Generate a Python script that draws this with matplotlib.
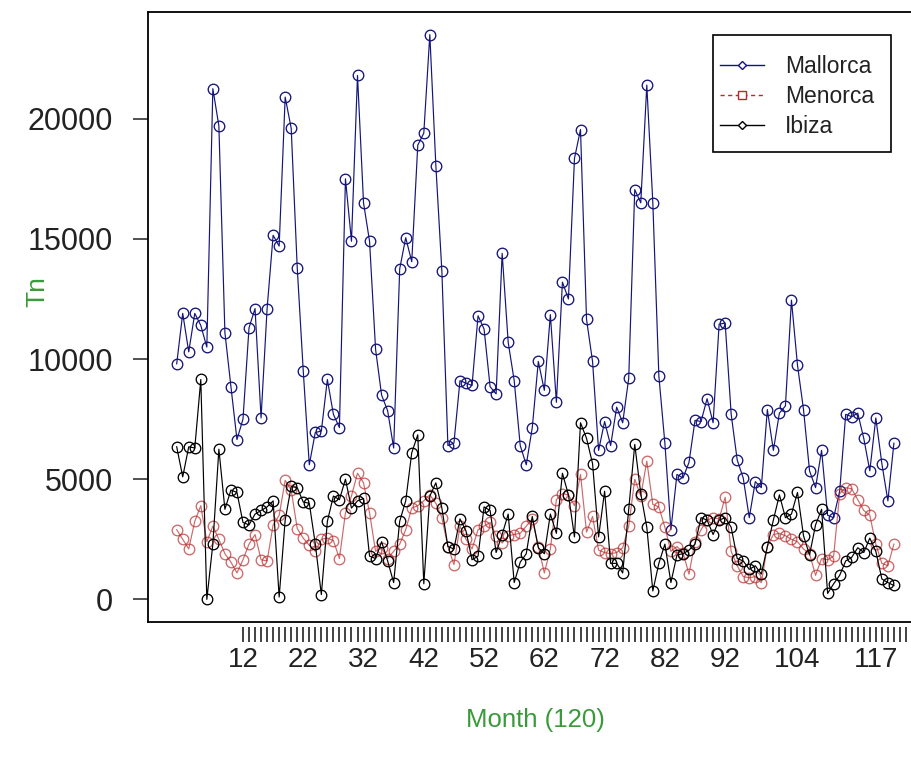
import numpy as np
import matplotlib
matplotlib.use("Agg")
import matplotlib.pyplot as plt
from matplotlib.lines import Line2D
from matplotlib.patches import Rectangle

plt.rcParams['font.family'] = ['Liberation Sans', 'DejaVu Sans']

# ---- data: monthly tonnage by island ----
months = np.arange(1, 121)

mallorca = [
    9800, 11900, 10300, 11900, 11400, 10500, 21250, 19700, 11100, 8850,
    6650, 7500, 11300, 12100, 7550, 12100, 15150, 14700, 20900, 19600,
    13800, 9500, 5600, 6950, 7000, 9150, 7700, 7150, 17500, 14900,
    21800, 16500, 14900, 10400, 8500, 7850, 6300, 13750, 15050, 14050,
    18900, 19400, 23500, 18050, 13650, 6400, 6500, 9100, 9000, 8900,
    11800, 11250, 8850, 8550, 14400, 10700, 9100, 6400, 5600, 7150,
    9900, 8700, 11850, 8200, 13200, 12500, 18350, 19550, 11650, 9900,
    6200, 7400, 6400, 8000, 7350, 9200, 17050, 16500, 21400, 16500,
    9300, 6500, 2900, 5200, 5050, 5700, 7450, 7400, 8350, 7350,
    11450, 11500, 7700, 5800, 5050, 3400, 4900, 4650, 7900, 6200,
    7750, 8050, 12450, 9750, 7900, 5350, 4650, 6200, 3500, 3400,
    4500, 7700, 7600, 7750, 6700, 5350, 7550, 5650, 4100, 6500,
]

menorca = [
    2900, 2500, 2100, 3250, 3900, 2400, 3050, 2500, 1900, 1550,
    1100, 1650, 2300, 2700, 1650, 1600, 3100, 3500, 4950, 4550,
    2950, 2550, 2250, 2000, 2500, 2550, 2450, 1700, 3600, 4300,
    5250, 4850, 3600, 2000, 2150, 1700, 2000, 2300, 2900, 3800,
    3900, 4100, 4350, 4000, 3400, 2200, 1450, 3050, 2500, 2100,
    2900, 3050, 3200, 2650, 2350, 2650, 2700, 2750, 3050, 3350,
    2200, 1100, 2100, 4150, 4400, 4350, 3900, 5200, 2800, 3450,
    2050, 1950, 1900, 1950, 2150, 3050, 5000, 4300, 5750, 3950,
    3850, 3000, 2000, 2200, 1950, 1050, 2400, 2900, 3300, 3400,
    3350, 4250, 2000, 1400, 950, 900, 950, 700, 2200, 2700,
    2750, 2650, 2500, 2400, 2100, 1900, 1000, 1700, 1650, 1800,
    4400, 4650, 4600, 4150, 3700, 3500, 2300, 1500, 1400, 2300,
]

ibiza = [
    6350, 5100, 6350, 6300, 9150, 0, 2300, 6250, 3750, 4550,
    4450, 3200, 3100, 3550, 3700, 3850, 4100, 100, 3300, 4700,
    4650, 4050, 4000, 2300, 200, 3250, 4300, 4150, 5000, 3800,
    4100, 4200, 1800, 1700, 2400, 1600, 700, 3250, 4100, 6100,
    6850, 650, 4300, 4850, 3800, 2200, 2100, 3350, 2850, 1650,
    1800, 3850, 3700, 1950, 2700, 3550, 700, 1550, 1900, 3450,
    2150, 1900, 3550, 2750, 5250, 4350, 2600, 7350, 6700, 5650,
    2600, 4500, 1500, 1500, 1100, 3750, 6450, 4400, 3000, 350,
    1500, 2300, 700, 1850, 1900, 2050, 2300, 3400, 3300, 2700,
    3300, 3400, 3000, 1700, 1600, 1250, 1400, 1050, 2200, 3300,
    4350, 3400, 3550, 4450, 2650, 1850, 3100, 3750, 250, 650,
    1000, 1600, 1750, 2150, 1950, 2550, 2000, 850, 700, 580,
]

series_names = ["Mallorca", "Menorca", "Ibiza"]
x_tick_positions = np.arange(12, 125)
x_labelled = [12, 22, 32, 42, 52, 62, 72, 82, 92, 104, 117]
y_ticks = [0, 5000, 10000, 15000, 20000]

# ---- styling ----
W, H = 912, 766
navy = "#14147a"
red = "#b82a2a"
green = "#3a9a3a"

fig = plt.figure(figsize=(W / 100, H / 100), dpi=100)
left, right, top, bottom = 148, 922.6, 12, 622
ax = fig.add_axes([left / W, 1 - bottom / H, (right - left) / W, (bottom - top) / H])

ms = 7.6
mew = 0.95
lw = 0.85
ax.plot(months, mallorca, color=navy, lw=lw, marker='o', ms=ms, mfc='none', mec=navy, mew=mew)
ax.plot(months, menorca, color=red, lw=lw, alpha=0.7, marker='o', ms=ms, mfc='none', mec=red, mew=mew)
ax.plot(months, ibiza, color='black', lw=lw, marker='o', ms=ms, mfc='none', mec='black', mew=mew)

ax.set_xlim(-3.76, 124.76)
ax.set_ylim(-940, 24440)

for s in ax.spines.values():
    s.set_linewidth(1.3)
    s.set_color('black')

# y axis
ax.set_yticks(y_ticks)
ax.set_yticklabels([str(v) for v in y_ticks])
ax.tick_params(axis='y', direction='out', length=11, width=1.1, pad=14, labelsize=22, colors='#222222')
ax.set_ylabel("Tn", color=green, fontsize=19, va='center')
ax.yaxis.set_label_coords((37 - left) / (right - left), (bottom - 292) / (bottom - top))

# x axis ticks drawn slightly below the frame
ax.set_xticks([])
sec = ax.secondary_xaxis(-0.008)
sec.spines['bottom'].set_visible(False)
sec.set_xticks(x_tick_positions)
sec.set_xticklabels([str(v) if v in x_labelled else "" for v in x_tick_positions])
sec.tick_params(axis='x', direction='out', length=10.5, width=1.2, pad=4, labelsize=20, colors='#222222')
sec.set_xlabel("Month (120)", color=green, fontsize=18.5, labelpad=25)

# legend: frame box plus entries
fig.add_artist(Rectangle((713 / W, 1 - 152 / H), (891 - 713) / W, (152 - 35) / H,
                         transform=fig.transFigure, fill=True, facecolor='white',
                         edgecolor='black', lw=1.2, zorder=4))
handles = [
    Line2D([], [], color=navy, lw=1.0, marker='D', ms=4.5, mfc='white', mec=navy, mew=1.0),
    Line2D([], [], color=red, lw=1.0, ls=(0, (3, 2.5)), marker='s', ms=5.5, mfc='white', mec=red, mew=1.0),
    Line2D([], [], color='black', lw=1.0, marker='D', ms=4.5, mfc='white', mec='black', mew=1.0),
]
leg = fig.legend(handles, series_names, loc='center left',
                 bbox_to_anchor=(720 / W, 1 - 96.5 / H), bbox_transform=fig.transFigure,
                 fontsize=16.5, frameon=False, borderaxespad=0, borderpad=0,
                 labelspacing=0.3, handlelength=1.9, handletextpad=0.95)
leg.set_zorder(5)
for t in leg.get_texts():
    t.set_color('#222222')

fig.savefig("out.png", dpi=100)
